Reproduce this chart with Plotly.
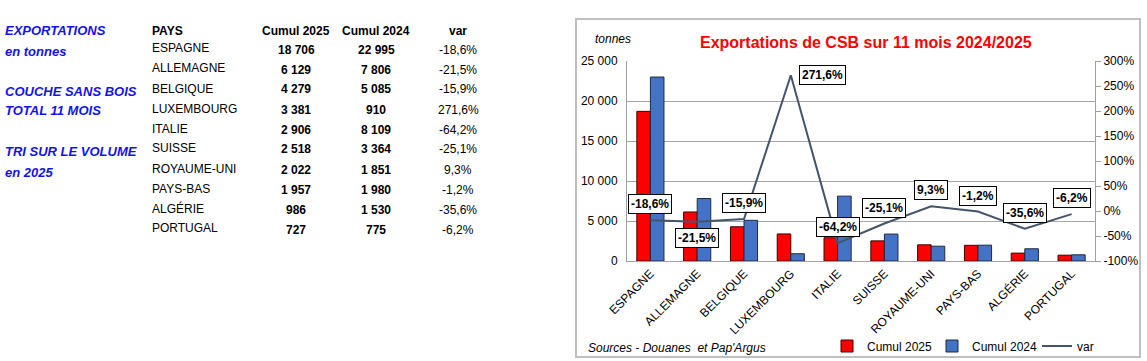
import plotly.graph_objects as go

W, H = 1147, 361

countries = ["ESPAGNE", "ALLEMAGNE", "BELGIQUE", "LUXEMBOURG", "ITALIE",
             "SUISSE", "ROYAUME-UNI", "PAYS-BAS", "ALGÉRIE", "PORTUGAL"]
cumul_2025 = [18706, 6129, 4279, 3381, 2906, 2518, 2022, 1957, 986, 727]
cumul_2024 = [22995, 7806, 5085, 910, 8109, 3364, 1851, 1980, 1530, 775]
var_pct = [-18.6, -21.5, -15.9, 271.6, -64.2, -25.1, 9.3, -1.2, -35.6, -6.2]

left_ticks = [0, 5000, 10000, 15000, 20000, 25000]
right_ticks = [-100, -50, 0, 50, 100, 150, 200, 250, 300]

side_notes = ["EXPORTATIONS", "en tonnes", "COUCHE SANS BOIS", "TOTAL 11 MOIS",
              "TRI SUR LE VOLUME", "en 2025"]
table_headers = ["PAYS", "Cumul 2025", "Cumul 2024", "var"]
chart_title = "Exportations de CSB sur 11 mois 2024/2025"
source_text = "Sources - Douanes  et Pap'Argus"

# label placement (pixel offsets), style only
label_shift = {"ALLEMAGNE": (0, -16), "LUXEMBOURG": (32, 0)}

FONT = "Liberation Sans, Arial, sans-serif"


def px(x):
    return x / W


def py(y):
    return 1 - y / H


def fmt_int(v):
    return f"{v:,}".replace(",", " ")


def fmt_pct(v):
    return f"{v:.1f}".replace(".", ",") + "%"


fig = go.Figure()
fig.add_bar(x=countries, y=cumul_2025, name="Cumul 2025",
            marker=dict(color="#FF0000", line=dict(color="#400000", width=1)))
fig.add_bar(x=countries, y=cumul_2024, name="Cumul 2024",
            marker=dict(color="#4472C4", line=dict(color="#1F2A44", width=1)))
fig.add_scatter(x=countries, y=var_pct, name="var", mode="lines", yaxis="y2",
                line=dict(color="#44546A", width=2))

ann = []
# side notes
note_y = [31, 52, 91, 111, 151, 172]
for t, yy in zip(side_notes, note_y):
    ann.append(dict(x=px(3), y=py(yy), xref="paper", yref="paper", text=f"<b><i>{t}</i></b>",
                    showarrow=False, xanchor="left", yanchor="middle",
                    font=dict(family=FONT, size=13, color="#1212F0")))

# table
col_x = [150, 296, 376, 458]
ann.append(dict(x=px(col_x[0]), y=py(31), xref="paper", yref="paper", text="<b>PAYS</b>",
                showarrow=False, xanchor="left", yanchor="middle",
                font=dict(family=FONT, size=12, color="black")))
for cx, h in zip(col_x[1:], table_headers[1:]):
    ann.append(dict(x=px(cx), y=py(31), xref="paper", yref="paper", text=f"<b>{h}</b>",
                    showarrow=False, xanchor="center", yanchor="middle",
                    font=dict(family=FONT, size=12, color="black")))
for i, c in enumerate(countries):
    yy = 48.5 + i * 20
    ann.append(dict(x=px(col_x[0]), y=py(yy), xref="paper", yref="paper", text=c,
                    showarrow=False, xanchor="left", yanchor="middle",
                    font=dict(family=FONT, size=12, color="black")))
    ann.append(dict(x=px(col_x[1]), y=py(yy + 1), xref="paper", yref="paper",
                    text=f"<b>{fmt_int(cumul_2025[i])}</b>",
                    showarrow=False, xanchor="center", yanchor="middle",
                    font=dict(family=FONT, size=12, color="black")))
    ann.append(dict(x=px(col_x[2]), y=py(yy + 1), xref="paper", yref="paper",
                    text=f"<b>{fmt_int(cumul_2024[i])}</b>",
                    showarrow=False, xanchor="center", yanchor="middle",
                    font=dict(family=FONT, size=12, color="black")))
    ann.append(dict(x=px(col_x[3]), y=py(yy + 1), xref="paper", yref="paper",
                    text=fmt_pct(var_pct[i]),
                    showarrow=False, xanchor="center", yanchor="middle",
                    font=dict(family=FONT, size=12, color="black")))

# chart texts
ann.append(dict(x=px(866), y=py(43), xref="paper", yref="paper", text=f"<b>{chart_title}</b>",
                showarrow=False, xanchor="center", yanchor="middle",
                font=dict(family=FONT, size=16, color="#FF0000")))
ann.append(dict(x=px(593), y=py(39), xref="paper", yref="paper", text="<i>tonnes</i>",
                showarrow=False, xanchor="left", yanchor="middle",
                font=dict(family=FONT, size=12, color="black")))
ann.append(dict(x=px(586), y=py(348), xref="paper", yref="paper", text=f"<i>{source_text}</i>",
                showarrow=False, xanchor="left", yanchor="middle",
                font=dict(family=FONT, size=12, color="black")))

# data labels for var
for c, v in zip(countries, var_pct):
    dx, dy = label_shift.get(c, (0, 16))
    ann.append(dict(x=c, y=v, xref="x", yref="y2", text=f"<b>{fmt_pct(v)}</b>",
                    showarrow=False, xshift=dx, yshift=dy,
                    bgcolor="white", bordercolor="black", borderwidth=1, borderpad=2,
                    font=dict(family=FONT, size=12, color="black")))

fig.update_layout(
    width=W, height=H, autosize=False,
    margin=dict(l=0, r=0, t=0, b=0, pad=0, autoexpand=False),
    paper_bgcolor="white", plot_bgcolor="white",
    font=dict(family=FONT, size=12, color="black"),
    separators=", ",
    barmode="group", bargap=0.42, bargroupgap=0,
    showlegend=True,
    legend=dict(orientation="h", x=px(827), y=py(346), xanchor="left", yanchor="middle",
                font=dict(family=FONT, size=12, color="black"),
                bgcolor="rgba(0,0,0,0)", entrywidth=60, entrywidthmode="pixels",
                tracegroupgap=0),
    xaxis=dict(domain=[px(627), px(1095)], anchor="y", tickangle=-45, automargin=False,
               showline=True, linecolor="#A0A0A0", linewidth=1,
               tickfont=dict(family=FONT, size=12, color="black"), showgrid=False),
    yaxis=dict(domain=[py(261), py(61)], range=[0, 25000], tickvals=left_ticks,
               ticktext=[fmt_int(v) for v in left_ticks], automargin=False,
               showgrid=True, gridcolor="#A6A6A6", gridwidth=1,
               showline=True, linecolor="#A0A0A0", linewidth=1, zeroline=False,
               ticklabelstandoff=6,
               tickfont=dict(family=FONT, size=12, color="black")),
    yaxis2=dict(overlaying="y", side="right", anchor="x", range=[-100, 300],
                tickvals=right_ticks, ticktext=[f"{v}%" for v in right_ticks],
                automargin=False,
                showgrid=False, zeroline=False, showline=True, linecolor="#A0A0A0",
                ticks="outside", ticklen=5, tickcolor="#A0A0A0",
                tickfont=dict(family=FONT, size=12, color="black")),
    annotations=ann,
    shapes=[dict(type="rect", xref="paper", yref="paper", x0=px(576), x1=px(1140),
                 y0=py(357), y1=py(19), line=dict(color="#BFBFBF", width=2),
                 fillcolor="rgba(0,0,0,0)", layer="below")],
)

fig.write_html("out.html", config={"displayModeBar": False},
               post_script="document.body.style.margin='0';document.body.style.overflow='hidden';")
